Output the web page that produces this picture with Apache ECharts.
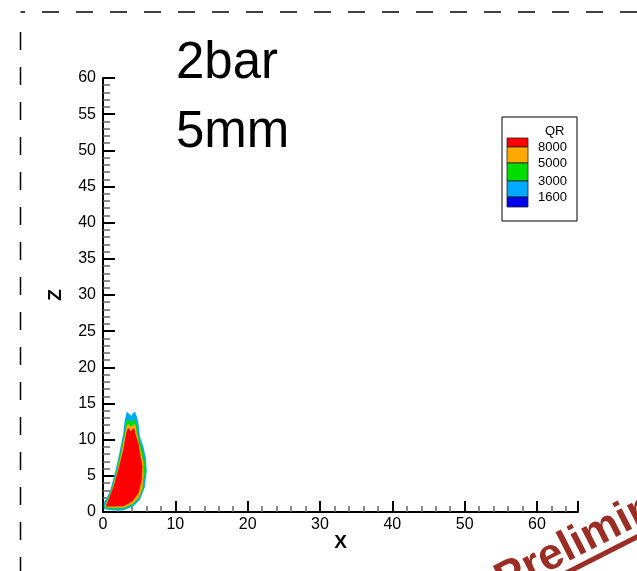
<!DOCTYPE html>
<html>
<head>
<meta charset="utf-8">
<script src="https://cdn.jsdelivr.net/npm/echarts@6.0.0/dist/echarts.min.js"></script>
<style>
  html, body { margin: 0; padding: 0; background: #fff; }
  #chart { width: 637px; height: 571px; }
</style>
</head>
<body>
<div id="chart"></div>
<script>
// contour outlines of QR, [x, z] in mm, outermost band first
const outline1600 = [
  [0.1, 0.5], [0.1, 1.3], [0.5, 1.9], [1.0, 3.0], [1.65, 5.4], [2.25, 8.1],
  [2.8, 10.9], [3.0, 12.7], [3.3, 13.9], [3.6, 13.6], [3.9, 13.3], [4.15, 13.7],
  [4.4, 13.9], [4.65, 13.3], [4.9, 12.3], [5.1, 10.4], [5.6, 9.0], [5.9, 7.6],
  [6.05, 5.8], [5.8, 3.5], [5.1, 1.7], [4.2, 0.8], [2.8, 0.2], [1.5, 0.2], [0.6, 0.3]
];
const outline3000 = [
  [0.2, 0.6], [0.25, 1.2], [0.6, 1.7], [1.15, 3.1], [1.8, 5.5], [2.4, 8.2],
  [2.95, 10.9], [3.15, 12.3], [3.4, 12.9], [3.7, 12.6], [3.95, 12.4], [4.2, 12.7],
  [4.4, 12.9], [4.6, 12.3], [4.75, 11.4], [5.0, 10.0], [5.45, 8.6], [5.75, 7.4],
  [5.85, 5.8], [5.6, 3.4], [4.95, 1.9], [4.1, 1.0], [2.8, 0.45], [1.5, 0.4], [0.6, 0.5]
];
const outline5000 = [
  [0.3, 0.7], [0.35, 1.1], [0.7, 1.7], [1.3, 3.3], [1.95, 5.6], [2.6, 8.4],
  [3.05, 10.8], [3.25, 11.8], [3.45, 12.2], [3.75, 11.9], [4.0, 11.8], [4.25, 12.1],
  [4.4, 12.2], [4.55, 11.7], [4.65, 11.0], [4.95, 9.6], [5.3, 8.0], [5.6, 6.8],
  [5.6, 4.8], [5.45, 3.2], [4.95, 2.0], [4.05, 1.1], [2.8, 0.6], [1.5, 0.6], [0.6, 0.65]
];
const outline8000 = [
  [0.4, 0.8], [0.45, 1.0], [0.75, 1.7], [1.45, 3.5], [2.1, 5.8], [2.8, 8.6],
  [3.2, 10.9], [3.35, 11.4], [3.5, 11.6], [3.8, 11.2], [4.0, 11.3], [4.2, 11.6],
  [4.35, 11.5], [4.45, 10.9], [4.9, 9.5], [5.2, 7.6], [5.45, 6.3], [5.35, 4.4],
  [4.9, 2.6], [4.0, 1.4], [2.8, 0.8], [1.5, 0.75], [0.7, 0.75]
];
const legendLevels = ["8000", "5000", "3000", "1600"];
const titleLines = ["2bar", "5mm"];
const xMax = 65.67;
const zMax = 60;

const bandColors = ["#00aaff", "#00dd00", "#ffaa00", "#ff0000"];
const swatchColors = ["#ff0000", "#ffaa00", "#00dd00", "#00aaff", "#0000ee"];
const font = "'Liberation Sans', Arial, sans-serif";

const chart = echarts.init(document.getElementById("chart"));

const outlines = [outline1600, outline3000, outline5000, outline8000];

// legend box drawn by hand, Tecplot style
const legendGraphic = [
  {
    type: "rect",
    shape: { x: 502, y: 117, width: 75, height: 104 },
    style: { fill: "#fff", stroke: "#000", lineWidth: 1 },
  },
  {
    type: "text",
    x: 545, y: 131,
    style: { text: "QR", font: "13px " + font, fill: "#000", verticalAlign: "middle" },
  },
];
const swatchEdges = [138, 147, 163, 181, 197, 207];
swatchColors.forEach((c, i) => {
  legendGraphic.push({
    type: "rect",
    shape: { x: 507, y: swatchEdges[i], width: 21, height: swatchEdges[i + 1] - swatchEdges[i] },
    style: { fill: c, stroke: "#222", lineWidth: 0.8 },
  });
});
legendLevels.forEach((lv, i) => {
  legendGraphic.push({
    type: "text",
    x: 538, y: swatchEdges[i + 1],
    style: { text: lv, font: "13px " + font, fill: "#000", verticalAlign: "middle" },
  });
});

const option = {
  animation: false,
  backgroundColor: "#fff",
  grid: { left: 103, top: 78, width: 475, height: 434 },
  xAxis: {
    type: "value",
    min: 0,
    max: xMax,
    interval: 10,
    name: "X",
    nameLocation: "middle",
    nameGap: 21,
    nameMoveOverlap: false,
    nameTextStyle: { fontFamily: font, fontSize: 19, fontWeight: "bold", color: "#000", verticalAlign: "top" },
    axisLine: { lineStyle: { color: "#000", width: 2 } },
    axisTick: { inside: true, length: 11, lineStyle: { color: "#000", width: 2 } },
    minorTick: { show: true, splitNumber: 5, length: 6, lineStyle: { color: "#666", width: 1.5 } },
    axisLabel: { fontFamily: font, fontSize: 16, color: "#000", margin: 5, showMaxLabel: false },
    splitLine: { show: false },
  },
  yAxis: {
    type: "value",
    min: 0,
    max: zMax,
    interval: 5,
    name: "Z",
    nameLocation: "middle",
    nameRotate: 90,
    nameGap: 38,
    nameMoveOverlap: false,
    nameTextStyle: { fontFamily: font, fontSize: 19, fontWeight: "bold", color: "#000" },
    axisLine: { lineStyle: { color: "#000", width: 2 } },
    axisTick: { inside: true, length: 12, lineStyle: { color: "#000", width: 2 } },
    minorTick: { show: true, splitNumber: 5, length: 7, lineStyle: { color: "#666", width: 1.5 } },
    axisLabel: { fontFamily: font, fontSize: 16, color: "#000", margin: 7 },
    splitLine: { show: false },
  },
  series: outlines.map((pts, i) => ({
    type: "custom",
    silent: true,
    z: 2 + i,
    data: [pts[0]],
    renderItem: (params, api) => ({
      type: "polygon",
      shape: { points: pts.map((p) => api.coord(p)) },
      style: { fill: bandColors[i] },
    }),
  })),
  graphic: [
    {
      type: "polyline",
      shape: { points: [[637, 12], [20.5, 12]] },
      style: { stroke: "#000", lineWidth: 1.5, lineDash: [17, 17], fill: null },
    },
    {
      type: "polyline",
      shape: { points: [[20.5, 32], [20.5, 571]] },
      style: { stroke: "#000", lineWidth: 1.5, lineDash: [18, 17], fill: null },
    },
    {
      type: "text",
      x: 176, y: 89,
      style: { text: titleLines[0], font: "51px " + font, fill: "#000", verticalAlign: "bottom" },
    },
    {
      type: "text",
      x: 176, y: 158,
      style: { text: titleLines[1], font: "51px " + font, fill: "#000", verticalAlign: "bottom" },
    },
    ...legendGraphic,
    {
      type: "group",
      x: 504, y: 594,
      rotation: 27 * Math.PI / 180,
      children: [
        {
          type: "text",
          x: 0, y: 10,
          style: { text: "Preliminary", font: "bold 44px " + font, fill: "#9b2d24", verticalAlign: "bottom" },
        },
        {
          type: "rect",
          shape: { x: 0, y: 7, width: 300, height: 5 },
          style: { fill: "#9b2d24" },
        },
      ],
    },
  ],
};

chart.setOption(option);
</script>
</body>
</html>
